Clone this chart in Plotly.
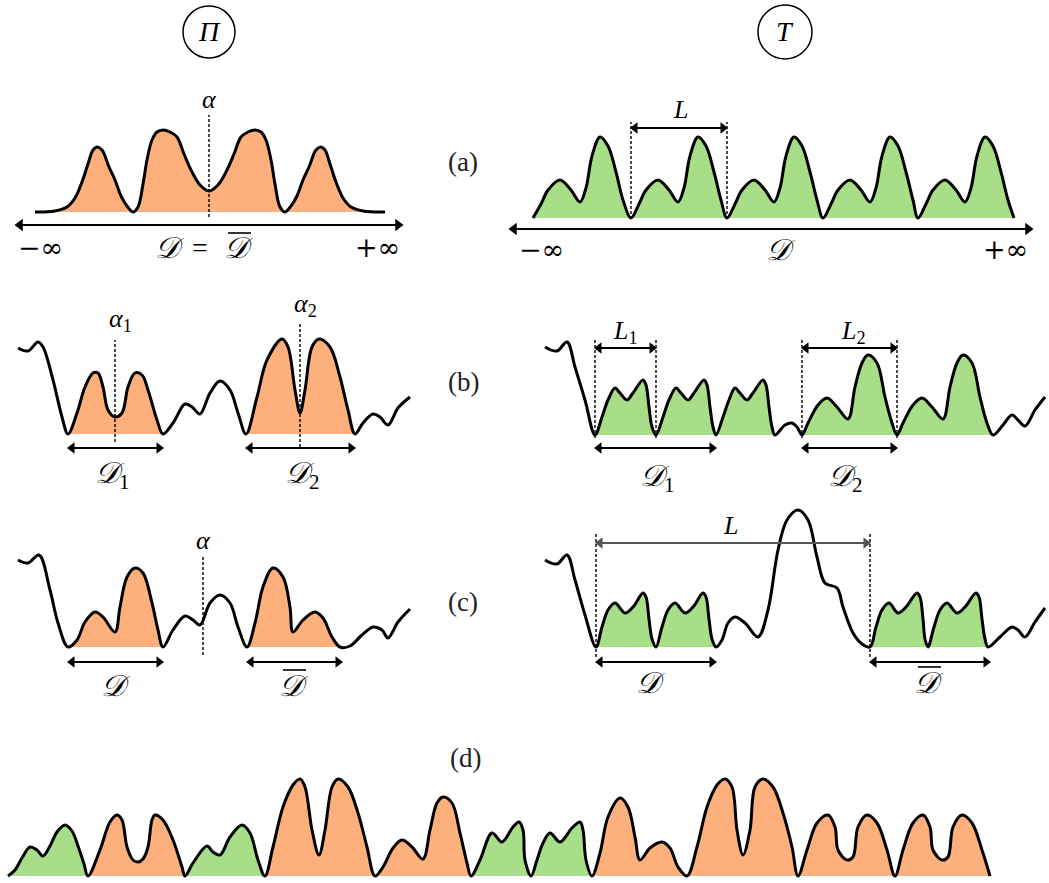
import plotly.graph_objects as go

W, H = 1049, 883
ORANGE = "#FDB07C"
GREEN = "#A9DE88"
SERIF = "Liberation Serif"
SM = 1.0

# ---------------- data (x: px from panel left, y: height above baseline) -------------
aL_x = [35, 55, 67, 75, 82, 88, 93, 97, 102, 109, 115, 121, 127, 133,
        138, 143, 147, 152, 157, 163, 170, 177, 184, 192, 200, 209,
        218, 226, 234, 241, 248, 255, 261, 266, 271, 275, 280, 285,
        291, 297, 303, 309, 316, 321, 325, 330, 336, 343, 351, 363, 385]
aL_y = [0, 1, 5, 14, 30, 48, 62, 65, 62, 45, 32, 16, 6, 0,
        5, 28, 52, 72, 80, 82, 80, 75, 58, 40, 27, 21,
        27, 40, 58, 75, 80, 82, 80, 72, 52, 28, 5, 0,
        6, 16, 32, 45, 62, 65, 62, 48, 30, 14, 5, 1, 0]

aR_x = [33, 41, 48, 60, 71, 80, 86, 92, 100, 108, 116, 123,
        131, 139, 146, 158, 169, 178, 184, 190, 198, 206, 214, 221,
        227, 235, 242, 254, 265, 274, 280, 286, 294, 302, 310, 317,
        323, 331, 338, 350, 361, 370, 376, 382, 390, 398, 406, 413,
        418, 426, 433, 445, 456, 465, 471, 477, 485, 493, 501, 508, 514]
aR_y = [0, 14, 28, 38, 28, 16, 30, 62, 81, 72, 46, 18,
        0, 14, 28, 38, 28, 16, 30, 62, 81, 72, 46, 18,
        0, 14, 28, 38, 28, 16, 30, 62, 81, 72, 46, 18,
        0, 14, 28, 38, 28, 16, 30, 62, 81, 72, 46, 18,
        0, 14, 28, 38, 28, 16, 30, 62, 81, 72, 46, 18, 0]

bL_x = [18, 28, 38, 43, 53, 62, 68,
        77, 85, 93, 98, 103, 108, 115, 122, 128, 135, 142, 148, 157, 163,
        173, 185, 192, 200, 210, 220, 230, 238, 246,
        257, 267, 282, 288, 295, 300, 305, 312, 319, 330, 340, 348, 355,
        363, 373, 380, 388, 398, 410]
bL_y = [86, 83, 92, 87, 54, 17, 0,
        21, 47, 61, 61, 47, 24, 17, 21, 47, 61, 59, 44, 14, 0,
        11, 30, 27, 20, 41, 53, 44, 21, 0,
        37, 74, 95, 87, 44, 21, 44, 87, 95, 87, 57, 24, 0,
        11, 20, 17, 9, 26, 37]

bR_x = [45, 57, 67, 75, 85, 95,
        102, 108, 115, 120, 127, 133, 143, 146, 149, 152, 156,
        163, 169, 176, 181, 188, 194, 204, 207, 210, 213, 216,
        223, 229, 235, 240, 247, 253, 263, 266, 269, 272, 275,
        285, 292, 297, 302,
        308, 318, 327, 337, 348, 355, 362, 368, 377, 385, 392, 397,
        403, 413, 422, 432, 443, 450, 457, 463, 472, 480, 487, 493,
        503, 512, 518, 525, 535, 545]
bR_y = [88, 84, 93, 68, 35, 0,
        18, 35, 47, 42, 35, 42, 55, 50, 28, 8, 0,
        18, 35, 47, 42, 35, 42, 55, 50, 28, 8, 0,
        18, 35, 47, 42, 35, 42, 55, 50, 28, 8, 0,
        10, 12, 8, 0,
        12, 30, 37, 28, 16, 48, 72, 80, 72, 38, 12, 0,
        12, 30, 37, 28, 16, 48, 72, 80, 72, 38, 12, 0,
        10, 20, 15, 9, 25, 38]

cL_x = [18, 28, 39, 50, 58, 68,
        77, 85, 95, 103, 115, 120, 127, 135, 143, 152, 158, 163,
        173, 185, 193, 200, 210, 220, 230, 238, 247,
        255, 263, 273, 283, 290, 293, 303, 315, 323, 332, 340, 350,
        362, 373, 382, 388, 398, 410]
cL_y = [87, 84, 92, 57, 24, 0,
        7, 25, 35, 30, 15, 40, 70, 79, 74, 44, 17, 0,
        17, 31, 27, 22, 44, 52, 44, 20, 0,
        24, 60, 79, 70, 40, 15, 27, 35, 29, 10, 0, 1,
        12, 20, 17, 9, 25, 38]

cR_x = [45, 57, 67, 75, 85, 96,
        102, 108, 115, 125, 133, 143, 146, 149, 152, 156,
        162, 168, 175, 185, 193, 203, 206, 209, 212, 216,
        222, 228, 235, 245, 258, 268, 278, 287, 298, 308, 317, 325, 337, 343, 353, 362, 370,
        376, 382, 389, 398, 406, 417, 420, 423, 425, 428,
        434, 440, 447, 457, 465, 476, 479, 482, 485, 488,
        500, 512, 518, 525, 535, 545]
cR_y = [87, 83, 92, 67, 32, 0,
        20, 37, 44, 34, 40, 54, 50, 28, 8, 0,
        20, 37, 44, 34, 40, 54, 50, 28, 8, 0,
        7, 24, 30, 24, 10, 37, 97, 127, 137, 127, 90, 64, 59, 40, 14, 3, 0,
        20, 37, 44, 34, 40, 54, 50, 28, 8, 0,
        20, 37, 44, 34, 40, 54, 50, 28, 8, 0,
        10, 20, 17, 10, 25, 39]

d_x = [8, 15, 22, 30, 37, 43, 50, 57, 65, 72, 78, 84, 88,
       100, 110, 117, 122, 127, 133, 138, 143, 148, 152, 155, 163, 173, 182, 185,
       193, 207, 213, 220, 230, 242, 250, 258, 265,
       273, 283, 293, 300, 305, 312, 319, 325, 332, 338, 348, 358, 367, 375,
       383, 393, 402, 412, 423, 430, 437, 443, 452, 460, 467, 471,
       480, 492, 502, 513, 519, 523, 525, 531,
       537, 543, 550, 560, 572, 580, 583, 586, 592,
       600, 608, 620, 628, 635, 640, 650, 662, 670, 678, 687,
       697, 707, 717, 725, 732, 737, 743, 750, 755, 763, 773, 783, 792, 798,
       807, 817, 828, 835, 838, 847, 853, 858, 867, 877, 887, 895,
       903, 913, 923, 930, 933, 942, 948, 953, 962, 972, 982, 990]
d_y = [0, 6, 18, 29, 26, 20, 30, 44, 51, 45, 30, 12, 0,
       26, 54, 61, 56, 29, 16, 14, 17, 29, 56, 61, 56, 36, 9, 0,
       13, 30, 24, 21, 39, 51, 43, 16, 0,
       29, 69, 91, 97, 89, 46, 21, 46, 89, 97, 89, 63, 29, 0,
       9, 28, 36, 29, 17, 46, 73, 79, 73, 43, 13, 0,
       16, 43, 34, 49, 54, 46, 16, 0,
       16, 33, 43, 34, 48, 54, 46, 16, 0,
       23, 59, 78, 69, 39, 16, 28, 34, 28, 9, 0,
       29, 69, 91, 97, 89, 46, 21, 46, 89, 97, 89, 63, 29, 0,
       26, 53, 61, 49, 26, 16, 19, 49, 61, 53, 26, 0,
       26, 53, 61, 49, 26, 16, 19, 49, 61, 53, 26, 0]

# coloured intervals (x from, x to, colour)
aL_fill = [(35, 385, ORANGE)]
aR_fill = [(33, 514, GREEN)]
bL_fill = [(68, 163, ORANGE), (246, 355, ORANGE)]
bR_fill = [(95, 275, GREEN), (302, 493, GREEN)]
cL_fill = [(68, 163, ORANGE), (247, 340, ORANGE)]
cR_fill = [(96, 216, GREEN), (370, 488, GREEN)]
d_fill = [(8, 88, GREEN), (88, 185, ORANGE), (185, 265, GREEN),
          (265, 471, ORANGE), (471, 592, GREEN), (592, 990, ORANGE)]

# ---------------- figure -------------
fig = go.Figure()

PANELS = {  # name: (left px, right px, baseline px)
    "aL": (0, 450, 212),
    "aR": (500, 1049, 218),
    "bL": (0, 450, 434),
    "bR": (500, 1049, 435),
    "cL": (0, 450, 647),
    "cR": (500, 1049, 647),
    "d": (0, 1049, 876),
}
REF = {}
axes = {}
for i, (name, (x0, x1, base)) in enumerate(PANELS.items(), start=1):
    ytop = max(0, base - 165)
    ybot = min(H, base + 60)
    sfx = "" if i == 1 else str(i)
    axes["xaxis" + sfx] = dict(domain=[x0 / W, x1 / W], range=[0, x1 - x0], visible=False,
                               fixedrange=True, anchor="y" + sfx)
    axes["yaxis" + sfx] = dict(domain=[1 - ybot / H, 1 - ytop / H], range=[base - ybot, base - ytop],
                               visible=False, fixedrange=True, anchor="x" + sfx)
    REF[name] = ("x" + sfx, "y" + sfx)
fig.update_layout(**axes)


def curve(panel, xs, ys, fills):
    xr, yr = REF[panel]
    for a, b, col in fills:
        sx = [x for x in xs if a <= x <= b]
        sy = [y for x, y in zip(xs, ys) if a <= x <= b]
        fig.add_trace(go.Scatter(x=sx, y=sy, mode="lines",
                                 line=dict(width=0, shape="spline", smoothing=SM),
                                 fill="tozeroy", fillcolor=col, xaxis=xr, yaxis=yr,
                                 hoverinfo="skip", showlegend=False))
    fig.add_trace(go.Scatter(x=xs, y=ys, mode="lines",
                             line=dict(color="black", width=3, shape="spline", smoothing=SM),
                             xaxis=xr, yaxis=yr, hoverinfo="skip", showlegend=False))


def hline(panel, xa, xb, y, width=1.6, dash="solid", color="black"):
    xr, yr = REF[panel]
    fig.add_shape(type="line", xref=xr, yref=yr, x0=xa, x1=xb, y0=y, y1=y,
                  line=dict(color=color, width=width, dash=dash))


def vdash(panel, x, y0, y1):
    xr, yr = REF[panel]
    fig.add_shape(type="line", xref=xr, yref=yr, x0=x, x1=x, y0=y0, y1=y1,
                  line=dict(color="black", width=1.4, dash="3px,2px"))


def harrow(panel, xa, xb, y, color="black", width=1.8, head=10):
    xr, yr = REF[panel]
    fig.add_trace(go.Scatter(x=[xa + 4, xb - 4], y=[y, y], mode="lines",
                             line=dict(color=color, width=width),
                             xaxis=xr, yaxis=yr, hoverinfo="skip", showlegend=False))
    fig.add_trace(go.Scatter(x=[xa + 4, xb - 4], y=[y, y], mode="markers",
                             marker=dict(symbol=["triangle-left", "triangle-right"], size=head,
                                         color=color, line=dict(width=0)),
                             xaxis=xr, yaxis=yr, hoverinfo="skip", showlegend=False))


def label(panel, x, y, text, size=26, family=SERIF):
    xr, yr = REF[panel]
    fig.add_annotation(x=x, y=y, xref=xr, yref=yr, text=text, showarrow=False,
                       font=dict(family=family, size=size, color="black"),
                       xanchor="center", yanchor="middle")


D = "<i>𝒟</i>"
DS = 30  # size of the script D labels
INF = dict(family="DejaVu Serif", size=27)


def dbar(panel, x, y):
    """script D with an overline bar"""
    label(panel, x, y, D, size=DS)
    hline(panel, x - 10, x + 13, y + 15, width=1.6)


curve("aL", aL_x, aL_y, aL_fill)
curve("aR", aR_x, aR_y, aR_fill)
curve("bL", bL_x, bL_y, bL_fill)
curve("bR", bR_x, bR_y, bR_fill)
curve("cL", cL_x, cL_y, cL_fill)
curve("cR", cR_x, cR_y, cR_fill)
curve("d", d_x, d_y, d_fill)

# (a) left
vdash("aL", 209, -5, 97)
label("aL", 209, 112, "<i>α</i>")
harrow("aL", 16, 402, -13, width=2, head=11)
label("aL", 40, -36, "−∞", **INF)
label("aL", 169, -36, D, size=DS)
label("aL", 200, -36, "=", size=28)
dbar("aL", 238, -36)
label("aL", 377, -36, "+∞", **INF)
# (a) right
vdash("aR", 131, -1, 96)
vdash("aR", 227, -1, 96)
harrow("aR", 131, 227, 90)
label("aR", 180, 108, "<i>L</i>")
harrow("aR", 10, 532, -11, width=2, head=11)
label("aR", 41, -32, "−∞", **INF)
label("aR", 280, -32, D, size=DS)
label("aR", 505, -32, "+∞", **INF)
# (b) left
vdash("bL", 115, -8, 94)
label("bL", 120, 114, "<i>α</i><sub>1</sub>")
vdash("bL", 300, -13, 112)
label("bL", 305, 129, "<i>α</i><sub>2</sub>")
harrow("bL", 68, 163, -14)
label("bL", 112, -41, D + "<sub>1</sub>", size=DS)
harrow("bL", 246, 355, -14)
label("bL", 302, -41, D + "<sub>2</sub>", size=DS)
# (b) right
for xv in (95, 156, 302, 397):
    vdash("bR", xv, -3, 96)
harrow("bR", 95, 156, 87)
label("bR", 125, 103, "<i>L</i><sub>1</sub>")
harrow("bR", 302, 397, 87)
label("bR", 353, 103, "<i>L</i><sub>2</sub>")
harrow("bR", 95, 216, -13)
label("bR", 157, -43, D + "<sub>1</sub>", size=DS)
harrow("bR", 302, 397, -13)
label("bR", 345, -43, D + "<sub>2</sub>", size=DS)
# (c) left
vdash("cL", 203, -8, 92)
label("cL", 203, 107, "<i>α</i>")
harrow("cL", 68, 163, -15)
label("cL", 115, -38, D, size=DS)
harrow("cL", 247, 342, -15)
dbar("cL", 293, -38)
# (c) right
vdash("cR", 96, -10, 114)
vdash("cR", 370, -10, 114)
harrow("cR", 96, 370, 104, color="#555555", width=2.2)
label("cR", 230, 122, "<i>L</i>")
harrow("cR", 96, 216, -15)
label("cR", 150, -35, D, size=DS)
harrow("cR", 370, 490, -15)
dbar("cR", 428, -35)

# circled headers and row letters
for cx, cy, r, t in [(209, 32, 26, "Π"), (785, 32, 27, "T")]:
    fig.add_shape(type="circle", xref="paper", yref="paper",
                  x0=(cx - r) / W, x1=(cx + r) / W, y0=1 - (cy + r) / H, y1=1 - (cy - r) / H,
                  line=dict(color="black", width=1.5))
    fig.add_annotation(x=cx / W, y=1 - cy / H, xref="paper", yref="paper", text=f"<i>{t}</i>",
                       showarrow=False, font=dict(family=SERIF, size=28, color="black"),
                       xanchor="center", yanchor="middle")
for t, cx, cy in [("(a)", 463, 162), ("(b)", 463, 382), ("(c)", 463, 602), ("(d)", 465, 758)]:
    fig.add_annotation(x=cx / W, y=1 - cy / H, xref="paper", yref="paper", text=t,
                       showarrow=False, font=dict(family=SERIF, size=27, color="#222222"),
                       xanchor="center", yanchor="middle")

fig.update_layout(width=W, height=H, margin=dict(l=0, r=0, t=0, b=0),
                  paper_bgcolor="white", plot_bgcolor="rgba(0,0,0,0)", showlegend=False)

fig.write_html("out.html", config={"displayModeBar": False})
